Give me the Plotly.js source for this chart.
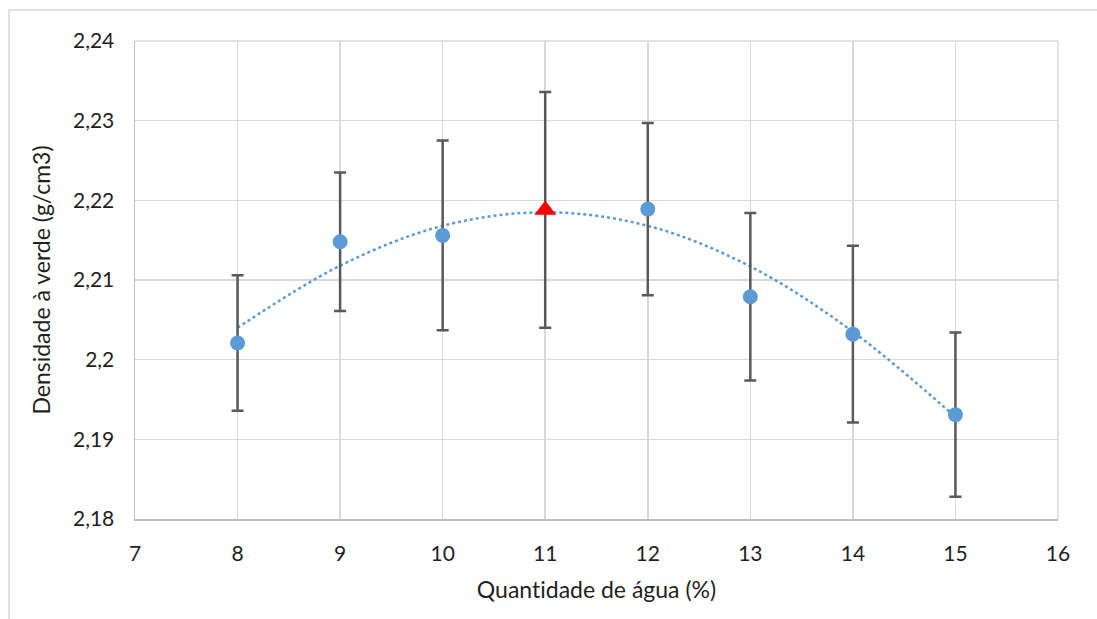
<!DOCTYPE html>
<html>
<head>
<meta charset="utf-8">
<script src="https://cdn.plot.ly/plotly-3.0.1.min.js"></script>
<style>
html,body{margin:0;padding:0;background:#fff;}
#chart{width:1097px;height:619px;}
#chart text{font-variant-ligatures:none;font-feature-settings:"liga" 0;}
</style>
</head>
<body>
<div id="chart"></div>
<script>
// Data
const waterContent = [8, 9, 10, 11, 12, 13, 14, 15];
const greenDensity = [2.2021, 2.2148, 2.2156, 2.2188, 2.2189, 2.2079, 2.2032, 2.1931];
const densityError = [0.0085, 0.0087, 0.0119, 0.0148, 0.0108, 0.0105, 0.0111, 0.0103];
const highlightX = 11;
// Trendline values (polynomial trendline)
const trendX = [8, 9, 10, 11, 12, 13, 14, 15];
const trendY = [2.2040, 2.2118, 2.2168, 2.2185, 2.2168, 2.2117, 2.2035, 2.1928];
const xTickVals = [7, 8, 9, 10, 11, 12, 13, 14, 15, 16];
const yTickVals = [2.18, 2.19, 2.20, 2.21, 2.22, 2.23, 2.24];
const yTickText = ['2,18', '2,19', '2,2', '2,21', '2,22', '2,23', '2,24'];

const blue = '#5B9BD5';
const fontFam = 'Lato, "Open Sans", sans-serif';
const textColor = '#1f1f1f';

const symbols = waterContent.map(v => v === highlightX ? 'triangle-up' : 'circle');
const colors = waterContent.map(v => v === highlightX ? '#FF0000' : blue);
const sizes = waterContent.map(v => v === highlightX ? 19 : 15);

const traces = [
  {
    x: trendX, y: trendY, type: 'scatter', mode: 'lines',
    line: {color: blue, width: 2.5, dash: 'dot', shape: 'spline'},
    hoverinfo: 'skip', showlegend: false
  },
  {
    x: waterContent, y: greenDensity, type: 'scatter', mode: 'markers',
    marker: {symbol: symbols, color: colors, size: sizes, opacity: 1, line: {width: 0}},
    error_y: {type: 'data', array: densityError, visible: true, color: '#595959', thickness: 2.5, width: 6},
    showlegend: false
  }
];

// plot area in pixels: left 135, right 1058, top 41, bottom 519
const pl = 135, pr = 1058, pt = 41, pb = 519;
const pw = pr - pl, ph = pb - pt;
const px = v => (v - pl) / pw;
const py = v => (pb - v) / ph;

const layout = {
  width: 1097, height: 619,
  margin: {l: pl, r: 1097 - pr, t: pt, b: 619 - pb, pad: 0},
  paper_bgcolor: '#fff', plot_bgcolor: '#fff',
  separators: ', ',
  font: {family: fontFam, size: 21, color: textColor},
  xaxis: {
    range: [7, 16], tickvals: xTickVals, ticks: '', ticklabelstandoff: 15,
    showgrid: true, gridcolor: '#D9D9D9', gridwidth: 1.5,
    showline: true, linecolor: '#BFBFBF', linewidth: 1.5,
    zeroline: false, tickfont: {size: 21, color: textColor},
    title: {text: 'Quantidade de água (%)', font: {size: 23, color: textColor}, standoff: 18}
  },
  yaxis: {
    range: [2.18, 2.24], tickvals: yTickVals, ticktext: yTickText, ticks: '', ticklabelstandoff: 15,
    showgrid: true, gridcolor: '#D9D9D9', gridwidth: 1.5,
    showline: true, linecolor: '#BFBFBF', linewidth: 1.5,
    zeroline: false, tickfont: {size: 21, color: textColor},
    title: {text: 'Densidade à verde (g/cm3)', font: {size: 23, color: textColor}, standoff: 16}
  },
  shapes: [
    {type: 'rect', xref: 'paper', yref: 'paper', x0: px(9), x1: px(1110), y0: py(640), y1: py(10),
     line: {color: '#D9D9D9', width: 1.5}, fillcolor: 'rgba(0,0,0,0)', layer: 'below'},
    {type: 'line', xref: 'paper', yref: 'paper', x0: 1, x1: 1, y0: 0, y1: 1, line: {color: '#D9D9D9', width: 1.5}},
    {type: 'line', xref: 'paper', yref: 'paper', x0: 0, x1: 1, y0: 1, y1: 1, line: {color: '#D9D9D9', width: 1.5}}
  ]
};

Plotly.newPlot('chart', traces, layout, {displayModeBar: false, staticPlot: true});
</script>
</body>
</html>
